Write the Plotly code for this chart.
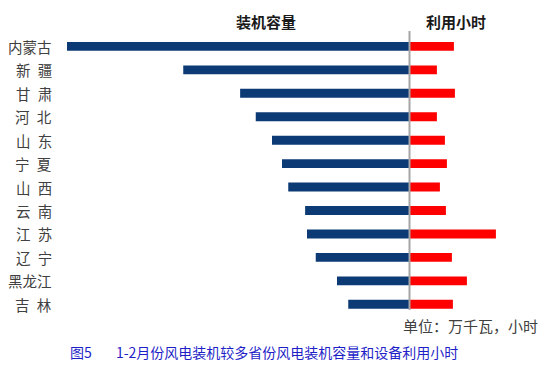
import plotly.graph_objects as go

provinces = ["内蒙古", "新\u2002疆", "甘\u2002肃", "河\u2002北", "山\u2002东", "宁\u2002夏",
             "山\u2002西", "云\u2002南", "江\u2002苏", "辽\u2002宁", "黑龙江", "吉\u2002林"]
capacity = [2740, 1810, 1355, 1230, 1100, 1020, 970, 835, 820, 750, 580, 490]  # 万千瓦
hours = [222, 137, 227, 137, 177, 187, 152, 182, 432, 212, 287, 217]  # 小时

OFF = 8  # page body margin
W, H = 555 - OFF, 369 - OFF
FONT = "Noto Sans CJK SC, Microsoft YaHei, sans-serif"


def px(x):
    return (x - OFF) / W


def py(y):
    return 1 - (y - OFF) / H


CX = 409.5  # window pixel of the centre line
fig = go.Figure()
fig.add_trace(go.Bar(y=provinces, x=capacity, orientation="h", xaxis="x", yaxis="y",
                     marker=dict(color="#0b3a74", line=dict(width=0)), name="装机容量"))
fig.add_trace(go.Bar(y=provinces, x=hours, orientation="h", xaxis="x2", yaxis="y",
                     marker=dict(color="#ff0000", line=dict(width=0)), name="利用小时"))

ytop, ybot = 33.9, 316.8
fig.update_layout(
    width=W, height=H,
    margin=dict(l=0, r=0, t=0, b=0),
    plot_bgcolor="white", paper_bgcolor="white",
    showlegend=False,
    bargap=0.62,
    xaxis=dict(domain=[0, px(CX)], range=[(CX - OFF) * 8, 0], visible=False),
    xaxis2=dict(domain=[px(CX), 1], range=[0, (555 - CX) * 5], visible=False, anchor="y"),
    yaxis=dict(domain=[py(ybot), py(ytop)], categoryorder="array",
               categoryarray=provinces, autorange="reversed", visible=False),
    font=dict(family=FONT),
)

# category labels
for p in provinces:
    fig.add_annotation(x=px(54), xref="paper", y=p, yref="y", text=p, showarrow=False,
                       xanchor="right", yanchor="middle",
                       font=dict(size=14.5, color="#404040", family=FONT))

# centre line
fig.add_shape(type="line", xref="paper", yref="paper", x0=px(CX), x1=px(CX),
              y0=py(31), y1=py(310), line=dict(color="#a6a6a6", width=2), layer="above")

# headers
fig.add_annotation(x=px(266), y=py(22), xref="paper", yref="paper", text="<b>装机容量</b>",
                   showarrow=False, xanchor="center", yanchor="middle",
                   font=dict(size=15, color="#1a1a1a", family=FONT))
fig.add_annotation(x=px(456), y=py(22), xref="paper", yref="paper", text="<b>利用小时</b>",
                   showarrow=False, xanchor="center", yanchor="middle",
                   font=dict(size=15, color="#1a1a1a", family=FONT))

# unit
fig.add_annotation(x=px(401), y=py(325), xref="paper", yref="paper", text="单位：万千瓦，小时",
                   showarrow=False, xanchor="left", yanchor="middle",
                   font=dict(size=15, color="#404040", family=FONT))

# caption
fig.add_annotation(x=px(68), y=py(352), xref="paper", yref="paper",
                   text="图5\u2003\u2002 1-2月份风电装机较多省份风电装机容量和设备利用小时",
                   showarrow=False, xanchor="left", yanchor="middle",
                   font=dict(size=14, color="#1f1fc8", family=FONT))

fig.write_html("out.html")
